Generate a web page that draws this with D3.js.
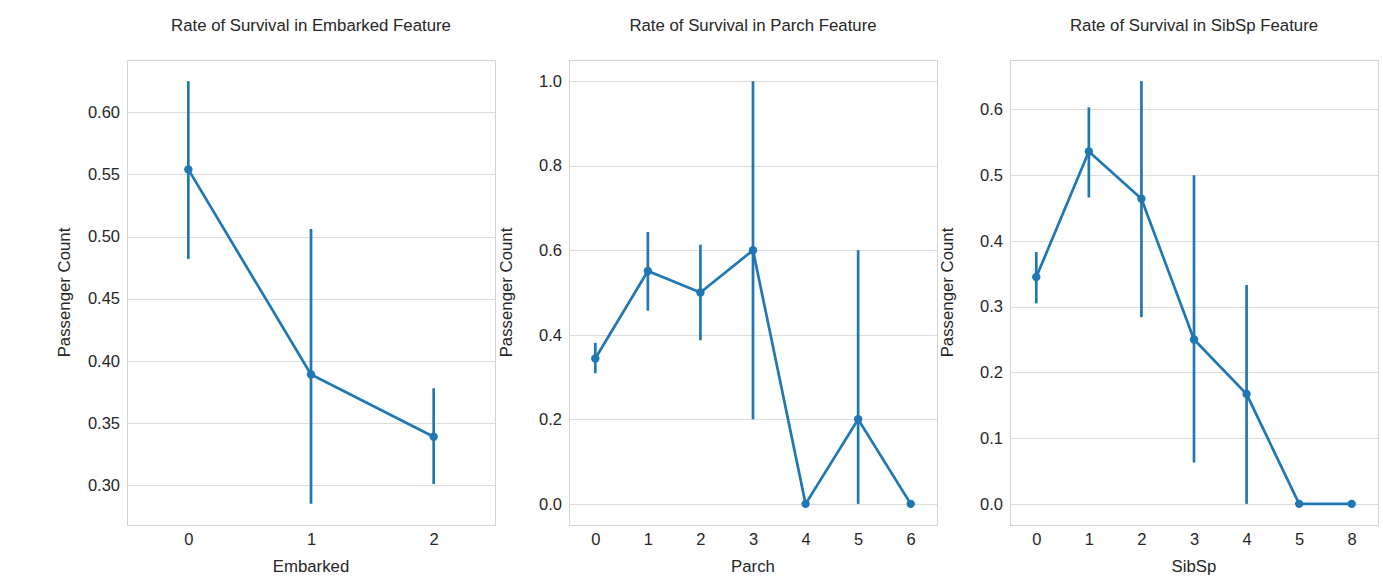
<!DOCTYPE html>
<html><head><meta charset="utf-8">
<script src="https://cdn.jsdelivr.net/npm/d3@7"></script>
<style>body{margin:0;background:#fff}svg text{font-family:"Liberation Sans",Arial,sans-serif;fill:#262626}</style>
</head><body><svg id="c" width="1383" height="577"></svg>
<script>
const titles = ["Rate of Survival in Embarked Feature","Rate of Survival in Parch Feature","Rate of Survival in SibSp Feature"];
const xLabels = ["Embarked","Parch","SibSp"];
const embarkedCats = ["0","1","2"];
const embarkedMean = [0.554, 0.389, 0.339];
const embarkedLo = [0.482, 0.285, 0.301];
const embarkedHi = [0.625, 0.506, 0.378];
const parchCats = ["0","1","2","3","4","5","6"];
const parchMean = [0.344, 0.551, 0.500, 0.600, 0.000, 0.200, 0.000];
const parchLo = [0.309, 0.457, 0.387, 0.200, 0.000, 0.000, 0.000];
const parchHi = [0.381, 0.643, 0.613, 1.000, 0.000, 0.600, 0.000];
const sibspCats = ["0","1","2","3","4","5","8"];
const sibspMean = [0.345, 0.536, 0.464, 0.250, 0.167, 0.000, 0.000];
const sibspLo = [0.305, 0.466, 0.284, 0.063, 0.000, 0.000, 0.000];
const sibspHi = [0.383, 0.603, 0.643, 0.500, 0.333, 0.000, 0.000];
const yTicks1 = [0.30,0.35,0.40,0.45,0.50,0.55,0.60];
const yTicks2 = [0.0,0.2,0.4,0.6,0.8,1.0];
const yTicks3 = [0.0,0.1,0.2,0.3,0.4,0.5,0.6];

const panels = [
  {cats:embarkedCats, mean:embarkedMean, lo:embarkedLo, hi:embarkedHi, ticks:yTicks1, fmt:d3.format(".2f"), left:127},
  {cats:parchCats, mean:parchMean, lo:parchLo, hi:parchHi, ticks:yTicks2, fmt:d3.format(".1f"), left:569},
  {cats:sibspCats, mean:sibspMean, lo:sibspLo, hi:sibspHi, ticks:yTicks3, fmt:d3.format(".1f"), left:1010}
];
const W = 368, topY = 60, H = 465, color = "#1f77b4";
const svg = d3.select("#c");

panels.forEach((p, i) => {
  const lo = d3.min(p.lo), hi = d3.max(p.hi), m = (hi - lo) * 0.05;
  const y = d3.scaleLinear().domain([lo - m, hi + m]).range([topY + H, topY]);
  const x = d3.scalePoint().domain(p.cats).range([p.left, p.left + W]).padding(0.5);
  const g = svg.append("g");
  g.selectAll(".grid").data(p.ticks).join("line")
    .attr("x1", p.left).attr("x2", p.left + W)
    .attr("y1", d => Math.round(y(d)) + 0.5).attr("y2", d => Math.round(y(d)) + 0.5)
    .attr("stroke", "#dcdcdc").attr("stroke-width", 1);
  g.append("rect").attr("x", p.left + 0.5).attr("y", topY + 0.5).attr("width", W).attr("height", H)
    .attr("fill", "none").attr("stroke", "#d4d4d4").attr("stroke-width", 1);
  const ya = g.append("g").attr("transform", `translate(${p.left},0)`)
    .call(d3.axisLeft(y).tickValues(p.ticks).tickFormat(p.fmt).tickSize(0).tickPadding(7));
  ya.select(".domain").remove();
  ya.selectAll("text").attr("font-size", 16.5).attr("fill", "#262626").style("font-family", '"Liberation Sans",Arial,sans-serif');
  const xa = g.append("g").attr("transform", `translate(0,${topY + H})`)
    .call(d3.axisBottom(x).tickSize(0).tickPadding(8));
  xa.select(".domain").remove();
  xa.selectAll("text").attr("font-size", 16.5).attr("fill", "#262626").style("font-family", '"Liberation Sans",Arial,sans-serif');
  g.append("text").attr("x", p.left + W / 2).attr("y", 31).attr("text-anchor", "middle")
    .attr("font-size", 16.8).text(titles[i]);
  g.append("text").attr("x", p.left + W / 2).attr("y", 572).attr("text-anchor", "middle")
    .attr("font-size", 16.8).text(xLabels[i]);
  g.append("text").attr("transform", `translate(${p.left - 57},${topY + H / 2}) rotate(-90)`)
    .attr("text-anchor", "middle").attr("font-size", 16.8).text("Passenger Count");
  g.selectAll(".err").data(p.cats).join("line")
    .attr("x1", d => x(d)).attr("x2", d => x(d))
    .attr("y1", (d, j) => y(p.lo[j])).attr("y2", (d, j) => y(p.hi[j]))
    .attr("stroke", color).attr("stroke-width", 2.7);
  g.append("path").datum(p.cats)
    .attr("d", d3.line().x(d => x(d)).y((d, j) => y(p.mean[j])))
    .attr("fill", "none").attr("stroke", color).attr("stroke-width", 2.7);
  g.selectAll(".pt").data(p.cats).join("circle")
    .attr("cx", d => x(d)).attr("cy", (d, j) => y(p.mean[j])).attr("r", 4.2).attr("fill", color);
});
</script></body></html>
